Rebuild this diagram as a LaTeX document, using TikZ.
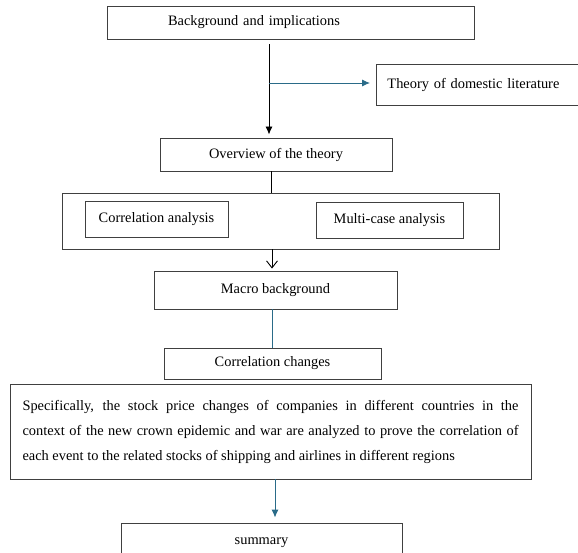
\documentclass[tikz,border=0pt]{standalone}
\usepackage{fontspec}
\setmainfont{Liberation Serif}
\usepackage{tikz}
\usetikzlibrary{positioning,calc,arrows.meta}
\definecolor{LinkTeal}{HTML}{2A6B88}
\definecolor{BoxGray}{HTML}{404040}

\begin{document}
\begin{tikzpicture}[x=1pt, y=-1pt, >={Latex[length=8pt,width=7pt]},
  every node/.style={font=\fontsize{14.4}{25}\selectfont},
  box/.style={draw=BoxGray, line width=0.9pt, rectangle, inner sep=0pt, align=center},
  link/.style={line width=0.9pt}]
  \useasboundingbox (0,0) rectangle (578,553);
  % Nodes
  \node [box, minimum width=367pt, minimum height=33pt, text width=245pt, inner xsep=61pt, align=left] (bg) at (290.5,22.5) {Background and implications};
  \node [box, anchor=west, minimum height=41pt, text width=200pt, inner xsep=11pt, align=left] (theory) at (376,84.5) {Theory of domestic literature};
  \node [box, minimum width=232pt, minimum height=33pt] (overview) at (276,154.5) {Overview of the theory};
  \node [box, minimum width=437pt, minimum height=56pt] (cases) at (280.5,221) {};
  \node [box, minimum width=143pt, minimum height=36pt] (corr) at (156.5,219) {Correlation analysis};
  \node [box, minimum width=147pt, minimum height=36pt] (multi) at (389.5,220) {Multi-case analysis};
  \node [box, minimum width=243pt, minimum height=38pt] (macro) at (275.5,290) {Macro background};
  \node [box, minimum width=217pt, minimum height=31pt] (change) at (272.5,363.5) {Correlation changes};
  \node [box, minimum width=521pt, minimum height=95pt, text width=496pt, inner xsep=12.5pt, align=justify] (detail) at (270.5,431.5) {Specifically, the stock price changes of companies in different countries in the\linebreak context of the new crown epidemic and war are analyzed to prove the correlation of\linebreak each event to the related stocks of shipping and airlines in different regions};
  \node [box, minimum width=281pt, minimum height=40pt] (summary) at (261.5,543) {summary};
  \coordinate (fork) at (269,83);

  % Paths
  \draw [link, shorten <=5pt] (bg.south -| fork) -- (fork);
  \draw [link, ->, shorten >=3pt] (fork) -- (fork |- overview.north);
  \draw [link, ->, LinkTeal, shorten >=6pt] (fork) -- (fork -| theory.west);
  \draw [link] ([xshift=-5pt]overview.south) -- ([xshift=-5pt]overview.south |- cases.north);
  \draw [link, -{Straight Barb[length=7pt,width=11pt]}, shorten >=2pt] ([xshift=-8.5pt]cases.south) -- ([xshift=-8.5pt]cases.south |- macro.north);
  \draw [link, LinkTeal] ([xshift=-3.5pt]macro.south) -- ([xshift=-3.5pt]macro.south |- change.north);
  \draw [link, ->, LinkTeal, shorten >=5pt] ([xshift=4.5pt]detail.south) -- ([xshift=4.5pt]detail.south |- summary.north);
\end{tikzpicture}
\end{document}
